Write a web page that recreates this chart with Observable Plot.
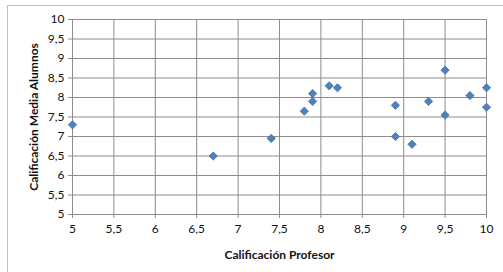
<!DOCTYPE html>
<html><head><meta charset="utf-8">
<script src="https://cdn.jsdelivr.net/npm/d3@7"></script>
<script src="https://cdn.jsdelivr.net/npm/@observablehq/plot@0.6"></script>
<style>
body{margin:0;background:#fff;overflow:hidden;}
#wrap{position:relative;width:503px;height:272px;}
#border{position:absolute;left:7px;top:5px;width:520px;height:300px;border:1px solid #bfbfbf;pointer-events:none;}
</style>
</head><body>
<div id="wrap"><div id="border"></div></div>
<script>
const profesor = [5, 6.7, 7.4, 7.8, 7.9, 7.9, 8.1, 8.2, 8.9, 8.9, 9.1, 9.3, 9.5, 9.5, 9.8, 10, 10];
const alumnos  = [7.3, 6.5, 6.95, 7.65, 7.9, 8.1, 8.3, 8.25, 7.8, 7.0, 6.8, 7.9, 8.7, 7.55, 8.05, 8.25, 7.75];
const ticks = [5, 5.5, 6, 6.5, 7, 7.5, 8, 8.5, 9, 9.5, 10];
const data = profesor.map((x, i) => ({x, y: alumnos[i]}));
const fmt = d => String(d).replace(".", ",");
const chart = Plot.plot({
  width: 503, height: 272,
  marginLeft: 72, marginRight: 17, marginTop: 19, marginBottom: 58,
  style: {fontFamily: "Lato, 'Open Sans', sans-serif", fontSize: "12px", color: "#111", background: "transparent"},
  x: {domain: [5, 10], label: null},
  y: {domain: [5, 10], label: null},
  marks: [
    Plot.gridX(ticks, {stroke: "#8c8c8c", strokeOpacity: 1}),
    Plot.gridY(ticks, {stroke: "#8c8c8c", strokeOpacity: 1}),
    Plot.axisX({ticks: ticks, tickFormat: fmt, tickSize: 4, tickPadding: 6, stroke: "#8c8c8c", fill: "#111", label: "Calificación Profesor", labelAnchor: "center", labelArrow: "none", labelOffset: 44, fontSize: 12}),
    Plot.axisY({ticks: ticks, tickFormat: fmt, tickSize: 4, tickPadding: 4, stroke: "#8c8c8c", fill: "#111", label: "Calificación Media Alumnos", labelAnchor: "center", labelArrow: "none", labelOffset: 43, fontSize: 12}),
    Plot.dot(data, {x: "x", y: "y", symbol: "diamond2", r: 3.7, fill: "#4f81bd", stroke: "#3f6fa8", strokeWidth: 0.8})
  ]
});
chart.style.position = "absolute";
chart.style.left = "0px";
chart.style.top = "0px";
document.getElementById("wrap").appendChild(chart);
chart.querySelectorAll("[aria-label='x-axis label'] text, [aria-label='y-axis label'] text").forEach(t => {t.style.fontWeight = "bold"; t.style.fontSize = "12px";});
</script>
</body></html>
